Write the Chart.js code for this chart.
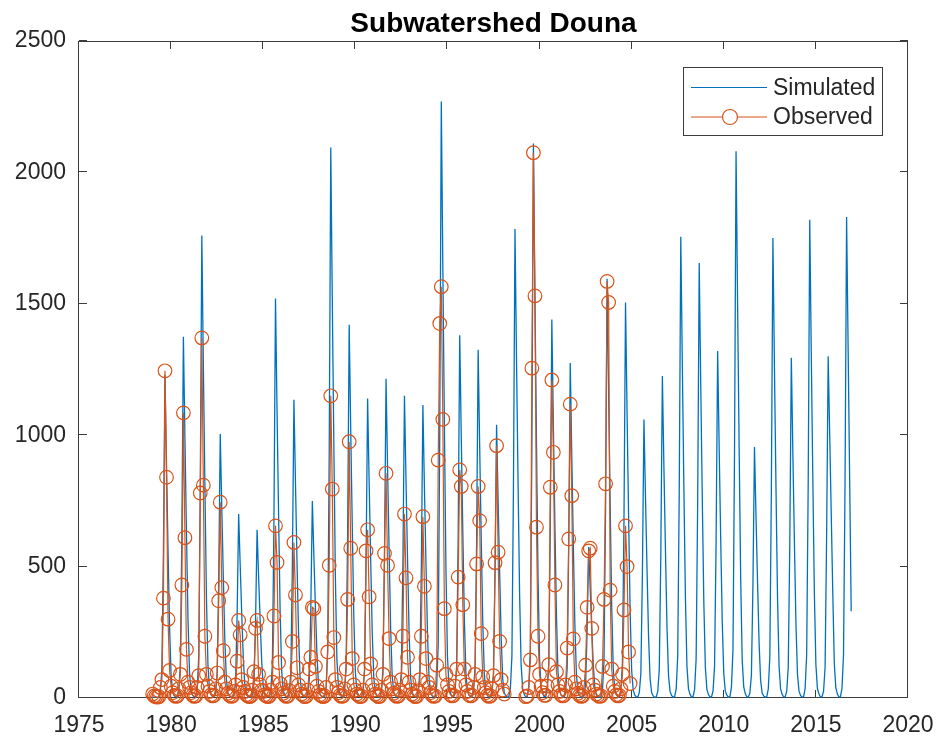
<!DOCTYPE html>
<html>
<head>
<meta charset="utf-8">
<script src="https://cdn.jsdelivr.net/npm/chart.js@4/dist/chart.umd.min.js"></script>
<style>
html,body{margin:0;padding:0;background:#ffffff;}
canvas{display:block;}
</style>
</head>
<body>
<canvas id="c" width="941" height="742"></canvas>
<script>
// ---------------- data ----------------
const chartTitle = 'Subwatershed Douna';
const seriesNames = ['Simulated', 'Observed'];
const startYear = 1979;            // first month = January 1979, monthly steps
const xTicks = [1975, 1980, 1985, 1990, 1995, 2000, 2005, 2010, 2015, 2020];
const yTicks = [0, 500, 1000, 1500, 2000, 2500];

// Simulated monthly flow, Jan 1979 - Dec 2016 (one row per year, Jan..Dec)
const simulated = [
  4, 2, 1, 1, 3, 25, 110, 560, 1230, 890, 560, 270,
  85, 25, 10, 3, 5, 28, 125, 620, 1375, 990, 630, 300,
  95, 28, 11, 4, 6, 35, 160, 800, 1760, 1270, 810, 385,
  125, 35, 14, 4, 4, 20, 90, 450, 1005, 725, 460, 220,
  70, 20, 8, 3, 3, 14, 63, 315, 700, 505, 320, 155,
  50, 14, 6, 2, 3, 13, 58, 290, 640, 460, 295, 140,
  45, 13, 5, 2, 4, 30, 135, 685, 1520, 1095, 700, 335,
  105, 30, 12, 4, 4, 23, 100, 510, 1135, 820, 520, 250,
  80, 23, 9, 3, 3, 15, 68, 340, 750, 540, 345, 165,
  52, 15, 6, 2, 5, 42, 190, 945, 2095, 1510, 965, 460,
  145, 42, 17, 5, 5, 28, 128, 640, 1420, 1020, 655, 310,
  100, 28, 11, 4, 4, 23, 103, 515, 1140, 820, 525, 250,
  80, 23, 9, 3, 4, 24, 110, 545, 1215, 875, 560, 265,
  85, 24, 10, 3, 4, 23, 104, 520, 1150, 830, 530, 255,
  80, 23, 9, 3, 4, 22, 100, 500, 1115, 800, 515, 245,
  78, 22, 9, 3, 5, 45, 205, 1020, 2270, 1635, 1045, 500,
  160, 45, 18, 5, 5, 28, 124, 620, 1380, 995, 635, 305,
  97, 28, 11, 4, 4, 27, 120, 595, 1325, 955, 610, 290,
  93, 26, 10, 3, 4, 21, 94, 470, 1040, 750, 480, 230,
  73, 21, 8, 3, 5, 36, 160, 805, 1785, 1285, 820, 395,
  125, 36, 14, 4, 5, 42, 190, 950, 2110, 1520, 970, 465,
  148, 42, 17, 5, 5, 29, 130, 650, 1440, 1035, 660, 315,
  100, 29, 12, 4, 4, 26, 115, 575, 1275, 920, 585, 280,
  90, 26, 10, 3, 3, 12, 52, 260, 575, 415, 265, 125,
  40, 12, 5, 2, 4, 32, 145, 720, 1595, 1150, 735, 350,
  112, 32, 13, 4, 5, 30, 135, 680, 1505, 1085, 690, 330,
  105, 30, 12, 4, 4, 21, 95, 475, 1060, 765, 490, 235,
  74, 21, 8, 3, 4, 25, 110, 550, 1225, 880, 565, 270,
  86, 25, 10, 3, 5, 35, 160, 790, 1755, 1265, 805, 385,
  123, 35, 14, 4, 5, 33, 150, 745, 1655, 1190, 760, 365,
  116, 33, 13, 4, 4, 26, 120, 595, 1320, 950, 605, 290,
  92, 26, 11, 3, 5, 42, 185, 935, 2080, 1500, 955, 460,
  145, 42, 17, 5, 4, 19, 86, 430, 955, 690, 440, 210,
  67, 19, 8, 3, 5, 35, 158, 790, 1750, 1260, 805, 385,
  122, 35, 14, 4, 4, 26, 116, 585, 1295, 930, 595, 285,
  91, 26, 10, 3, 5, 36, 165, 820, 1820, 1310, 835, 400,
  127, 36, 15, 4, 4, 26, 117, 620, 1300, 1000, 700, 400,
  130, 38, 15, 4, 5, 37, 165, 825, 1830, 1330, 830, 330
];

// Observed monthly flow, Jan 1979 - Dec 2004 (null = missing)
const observed = [
  15, 8, 5, 3, 5, 40, 70, 380, 1245, 840, 300, 105,
  45, 20, 10, 6, 8, 35, 90, 430, 1085, 610, 185, 60,
  40, 20, 10, 6, 8, 40, 85, 780, 1370, 810, 235, 90,
  45, 25, 12, 8, 10, 35, 95, 370, 745, 420, 180, 60,
  35, 18, 10, 6, 8, 25, 50, 140, 295, 240, 70, 40,
  25, 12, 8, 5, 8, 30, 100, 265, 295, 90, 50, 30,
  25, 12, 8, 5, 8, 30, 60, 312, 655, 516, 135, 55,
  35, 18, 10, 6, 8, 28, 60, 215, 592, 392, 115, 50,
  30, 15, 9, 5, 7, 30, 110, 155, 345, 340, 120, 45,
  25, 12, 8, 5, 8, 40, 175, 505, 1150, 795, 230, 70,
  40, 20, 10, 6, 8, 35, 110, 375, 975, 570, 150, 50,
  30, 15, 9, 5, 7, 30, 110, 560, 640, 385, 130, 50,
  30, 15, 9, 5, 7, 30, 90, 550, 855, 505, 226, 60,
  35, 18, 10, 6, 8, 30, 70, 235, 700, 457, 155, 60,
  30, 15, 9, 5, 7, 28, 70, 235, 690, 425, 150, 60,
  40, 20, 10, 6, 8, 125, 905, 1425, 1565, 1060, 340, 90,
  50, 25, 12, 8, 10, 45, 110, 460, 868, 805, 355, 110,
  50, 25, 12, 8, 10, 40, 90, 510, 805, 675, 245, 80,
  40, 20, 10, 6, 8, 35, 85, 515, 960, 555, 215, 70,
  30, 15, null, null, null, null, null, null, null, null, null, null,
  null, null, null, 5, 8, 40, 145, 1255, 2075, 1530, 650, 235,
  90, 45, 20, 10, 10, 45, 127, 802, 1210, 935, 430, 100,
  50, 25, 12, 8, 10, 50, 190, 605, 1118, 770, 225, 60,
  35, 18, 10, 6, 8, 40, 125, 345, 560, 570, 265, 50,
  30, 15, 9, 6, 8, 120, 375, 815, 1585, 1505, 410, 110,
  45, 25, 12, 8, 10, 35, 90, 335, 655, 500, 175, 55
];

// ---------------- styling ----------------
const FONT = '"Liberation Sans", Arial, Helvetica, sans-serif';
const TEXT_COLOR = '#262626';
const AXIS_COLOR = '#3c3c3c';
const BLUE = '#0072BD';
const ORANGE = '#D95319';
const TICK_LEN = 8;

const toPoints = (arr) => arr.map((v, i) => ({ x: startYear + i / 12, y: v }));

const framePlugin = {
  id: 'matlabFrame',
  beforeDraw(chart) {
    const ctx = chart.ctx;
    ctx.save();
    ctx.fillStyle = '#ffffff';
    ctx.fillRect(0, 0, chart.width, chart.height);
    ctx.restore();
  },
  beforeDatasetsDraw(chart) {
    const { ctx, chartArea: a, scales } = chart;
    const xs = scales.x, ys = scales.y;
    ctx.save();
    ctx.strokeStyle = AXIS_COLOR;
    ctx.lineWidth = 1;
    ctx.beginPath();
    xs.ticks.forEach(t => {
      const px = Math.round(xs.getPixelForValue(t.value)) - 0.5;
      ctx.moveTo(px, a.bottom); ctx.lineTo(px, a.bottom - TICK_LEN);
      ctx.moveTo(px, a.top); ctx.lineTo(px, a.top + TICK_LEN);
    });
    ys.ticks.forEach(t => {
      const py = Math.round(ys.getPixelForValue(t.value)) - 0.5;
      ctx.moveTo(a.left, py); ctx.lineTo(a.left + TICK_LEN, py);
      ctx.moveTo(a.right, py); ctx.lineTo(a.right - TICK_LEN, py);
    });
    ctx.stroke();
    ctx.strokeRect(a.left - 0.5, a.top + 0.5, a.right - a.left, a.bottom - a.top - 1);
    ctx.restore();
  },
  afterDraw(chart) {
    const { ctx, chartArea: a } = chart;
    ctx.save();
    // title
    ctx.fillStyle = '#000000';
    ctx.font = 'bold 28px ' + FONT;
    ctx.textAlign = 'center';
    ctx.textBaseline = 'alphabetic';
    ctx.fillText(chartTitle, (a.left + a.right) / 2, 31.5);

    // legend box
    const bw = 199, bh = 68;
    const bx = a.right - 26 - bw, by = a.top + 26;
    ctx.fillStyle = '#ffffff';
    ctx.fillRect(bx, by, bw, bh);
    ctx.strokeStyle = AXIS_COLOR;
    ctx.lineWidth = 1;
    ctx.strokeRect(bx + 0.5, by + 0.5, bw, bh);

    const rows = [
      { name: seriesNames[0], color: BLUE, marker: false, y: by + 20.5 },
      { name: seriesNames[1], color: ORANGE, marker: true, y: by + 50 }
    ];
    ctx.font = '23px ' + FONT;
    ctx.textAlign = 'left';
    ctx.textBaseline = 'middle';
    rows.forEach(r => {
      ctx.strokeStyle = r.color;
      ctx.lineWidth = 1.2;
      ctx.beginPath();
      ctx.moveTo(bx + 8, r.y);
      ctx.lineTo(bx + 84, r.y);
      ctx.stroke();
      if (r.marker) {
        ctx.fillStyle = '#ffffff';
        ctx.beginPath();
        ctx.arc(bx + 47, r.y, 7.5, 0, Math.PI * 2);
        ctx.fill();
        ctx.stroke();
      }
      ctx.fillStyle = TEXT_COLOR;
      ctx.fillText(r.name, bx + 90, r.y + 1);
    });
    ctx.restore();
  }
};

const ctx = document.getElementById('c').getContext('2d');
new Chart(ctx, {
  type: 'line',
  data: {
    datasets: [
      {
        label: seriesNames[1],
        data: toPoints(observed),
        borderColor: ORANGE,
        borderWidth: 1.2,
        pointStyle: 'circle',
        pointRadius: 6.8,
        pointBorderWidth: 1.2,
        pointBorderColor: ORANGE,
        pointBackgroundColor: 'rgba(0,0,0,0)',
        spanGaps: false,
        tension: 0,
        clip: false,
        order: 0
      },
      {
        label: seriesNames[0],
        data: toPoints(simulated),
        borderColor: BLUE,
        borderWidth: 1.3,
        pointRadius: 0,
        tension: 0,
        order: 1
      }
    ]
  },
  options: {
    responsive: false,
    animation: false,
    devicePixelRatio: 1,
    layout: { padding: { top: 41, right: 33, left: 0, bottom: 0 } },
    plugins: {
      legend: { display: false },
      title: { display: false },
      tooltip: { enabled: false }
    },
    scales: {
      x: {
        type: 'linear',
        min: xTicks[0],
        max: xTicks[xTicks.length - 1],
        afterBuildTicks: (s) => { s.ticks = xTicks.map(v => ({ value: v })); },
        afterFit: (s) => { s.height = 44; s.paddingLeft = 0; s.paddingRight = 0; },
        grid: { display: false, drawTicks: false },
        border: { display: false },
        ticks: {
          autoSkip: false,
          maxRotation: 0,
          padding: 14,
          color: TEXT_COLOR,
          font: { family: FONT, size: 23 },
          callback: (v) => String(v)
        }
      },
      y: {
        type: 'linear',
        min: yTicks[0],
        max: yTicks[yTicks.length - 1],
        afterBuildTicks: (s) => { s.ticks = yTicks.map(v => ({ value: v })); },
        afterFit: (s) => { s.width = 79; s.paddingTop = 0; s.paddingBottom = 0; },
        grid: { display: false, drawTicks: false },
        border: { display: false },
        ticks: {
          autoSkip: false,
          padding: 13,
          color: TEXT_COLOR,
          font: { family: FONT, size: 23 },
          callback: (v) => String(v)
        }
      }
    }
  },
  plugins: [framePlugin]
});
</script>
</body>
</html>
